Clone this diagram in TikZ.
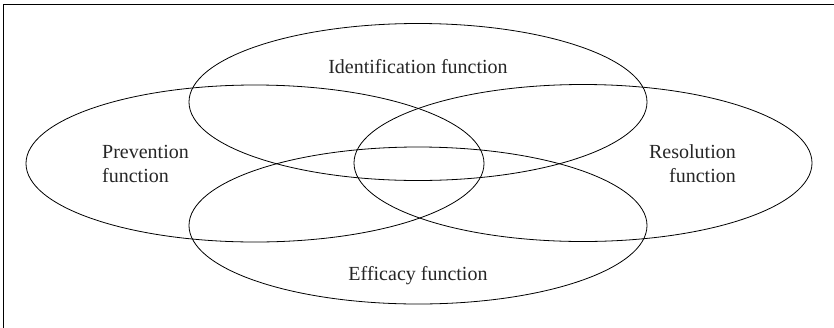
\documentclass[tikz,border=0pt]{standalone}
\usepackage{fontspec}
\setmainfont{Liberation Serif}
\usetikzlibrary{shapes.geometric}
\begin{document}
\begin{tikzpicture}[x=1pt,y=-1pt,
  set/.style={ellipse,draw,line width=0.8pt,minimum width=458pt,minimum height=157pt,inner sep=0pt},
  lbl/.style={font=\fontsize{20}{24}\selectfont,inner sep=0pt,text=black!85}]
\useasboundingbox (0,0) rectangle (834,327);
\draw[line width=0.8pt] (3.5,330) -- (3.5,4.5) -- (840,4.5);
\node[set] (ident) at (418,102) {};
\node[set] (prev) at (255,163.5) {};
\node[set] (reso) at (583,163) {};
\node[set] (effi) at (418,225.5) {};
\node[lbl,anchor=base] (tident) at (418,73) {Identification function};
\node[lbl,anchor=base west,align=left] (tprev) at (102,182.5) {Prevention\\function};
\node[lbl,anchor=base east,align=right] (treso) at (736,182.5) {Resolution\\function};
\node[lbl,anchor=base] (teffi) at (418,280) {Efficacy function};
\end{tikzpicture}
\end{document}
